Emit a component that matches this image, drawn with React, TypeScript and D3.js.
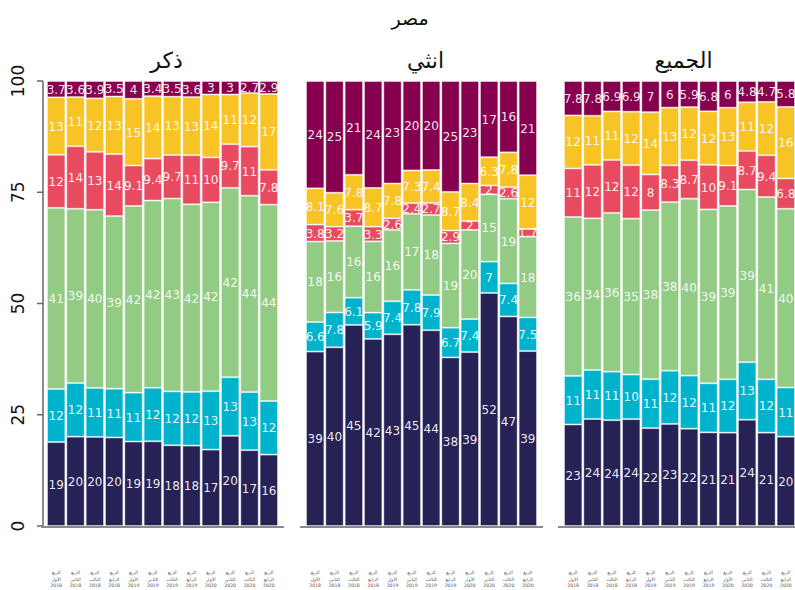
import React from "react";
import * as d3 from "d3";

const quarters = [
  "الربع الأول 2018", "الربع الثاني 2018", "الربع الثالث 2018", "الربع الرابع 2018",
  "الربع الأول 2019", "الربع الثاني 2019", "الربع الثالث 2019", "الربع الرابع 2019",
  "الربع الأول 2020", "الربع الثاني 2020", "الربع الثالث 2020", "الربع الرابع 2020",
];
const categories = ["c1", "c2", "c3", "c4", "c5", "c6"];
const colors = ["#262255", "#00b3cd", "#92cb83", "#e84b60", "#f8c325", "#86004f"];
const panelTitles = ["ذكر", "انثي", "الجميع"];
const yTicks = [0, 25, 50, 75, 100];
const chartTitle = "مصر";

// ذكر
const maleC1 = [19, 20, 20, 20, 19, 19, 18, 18, 17, 20, 17, 16];
const maleC2 = [12, 12, 11, 11, 11, 12, 12, 12, 13, 13, 13, 12];
const maleC3 = [41, 39, 40, 39, 42, 42, 43, 42, 42, 42, 44, 44];
const maleC4 = [12, 14, 13, 14, 9.1, 9.4, 9.7, 11, 10, 9.7, 11, 7.8];
const maleC5 = [13, 11, 12, 13, 15, 14, 13, 13, 14, 11, 12, 17];
const maleC6 = [3.7, 3.6, 3.9, 3.5, 4, 3.4, 3.5, 3.6, 3, 3, 2.7, 2.9];
// انثي
const femC1 = [39, 40, 45, 42, 43, 45, 44, 38, 39, 52, 47, 39];
const femC2 = [6.6, 7.8, 6.1, 5.9, 7.4, 7.8, 7.9, 6.7, 7.4, 7, 7.4, 7.5];
const femC3 = [18, 16, 16, 16, 16, 17, 18, 19, 20, 15, 19, 18];
const femC4 = [3.8, 3.2, 3.7, 3.3, 2.6, 2.4, 2.7, 2.9, 2, 2, 2.6, 1.7];
const femC5 = [8.1, 7.6, 7.8, 8.7, 7.8, 7.3, 7.4, 8.7, 8.4, 6.3, 7.8, 12];
const femC6 = [24, 25, 21, 24, 23, 20, 20, 25, 23, 17, 16, 21];
// الجميع
const allC1 = [23, 24, 24, 24, 22, 23, 22, 21, 21, 24, 21, 20];
const allC2 = [11, 11, 11, 10, 11, 12, 12, 11, 12, 13, 12, 11];
const allC3 = [36, 34, 36, 35, 38, 38, 40, 39, 39, 39, 41, 40];
const allC4 = [11, 12, 12, 12, 8, 8.3, 8.7, 10, 9.1, 8.7, 9.4, 6.8];
const allC5 = [12, 11, 11, 12, 14, 13, 12, 12, 13, 11, 12, 16];
const allC6 = [7.8, 7.8, 6.9, 6.9, 7, 6, 5.9, 6.8, 6, 4.8, 4.7, 5.8];

const panelSeries = [
  [maleC1, maleC2, maleC3, maleC4, maleC5, maleC6],
  [femC1, femC2, femC3, femC4, femC5, femC6],
  [allC1, allC2, allC3, allC4, allC5, allC6],
];

const W = 795, H = 590;
const yTop = 81, yBot = 526;
const panelX = [47, 306, 564];
const panelW = 231;
const FONT = "'DejaVu Sans', Verdana, sans-serif";

function Panel({ idx }: { idx: number }) {
  const series = panelSeries[idx];
  const rows = quarters.map((q, i) => {
    const r: any = { q };
    categories.forEach((c, k) => (r[c] = series[k][i]));
    return r;
  });
  const stacked = d3.stack<any>().keys(categories).offset(d3.stackOffsetExpand)(rows);
  const x0 = panelX[idx];
  const x = d3.scaleBand<string>().domain(quarters).range([x0, x0 + panelW]).paddingInner(0.05);
  const y = d3.scaleLinear().domain([0, 1]).range([yBot, yTop]);
  return (
    <g>
      <text x={x0 + panelW / 2 + 4} y={68} textAnchor="middle" fontFamily={FONT} fontSize={22} fill="#111">
        {panelTitles[idx]}
      </text>
      {stacked.map((layer, k) => (
        <g key={k}>
          {layer.map((d, i) => (
            <rect key={i} x={x(quarters[i])! + 0.5} width={x.bandwidth() - 1}
              y={y(d[1]) + 0.5} height={Math.max(0, y(d[0]) - y(d[1]) - 1)}
              fill={colors[k]} stroke="rgba(255,255,255,0.4)" strokeWidth={1} />
          ))}
        </g>
      ))}
      {stacked.map((layer, k) => (
        <g key={"t" + k}>
          {layer.map((d, i) => (
            <text key={i} x={x(quarters[i])! + x.bandwidth() / 2} y={(y(d[0]) + y(d[1])) / 2 + 4.5}
              textAnchor="middle" fontFamily={FONT} fontSize={12} fill="#fff" fillOpacity={0.92}>
              {series[k][i]}
            </text>
          ))}
        </g>
      ))}
      <line x1={x0 - 6} x2={x0 + panelW + 6} y1={yBot + 1} y2={yBot + 1} stroke="#8a8a8a" strokeWidth={2} />
      {quarters.map((q, i) => {
        const parts = q.split(" ");
        const cx = x(q)! + x.bandwidth() / 2;
        const ys = [574, 580.5, 587];
        return (
          <text key={"xl" + i} textAnchor="middle" fontFamily={FONT} fontSize={4.6} fill="#555">
            {parts.map((p, j) => (
              <tspan key={j} x={cx} y={ys[j]}>{p}</tspan>
            ))}
          </text>
        );
      })}
    </g>
  );
}

export default function App() {
  const y = d3.scaleLinear().domain([0, 100]).range([yBot, yTop]);
  return (
    <div style={{ position: "fixed", left: 0, top: 0 }}>
      <svg width={W} height={H} style={{ display: "block", background: "#fff" }}>
        <text x={410} y={25} textAnchor="middle" fontFamily={FONT} fontSize={19} fill="#111">{chartTitle}</text>
        <line x1={43} x2={43} y1={yTop} y2={yBot + 1} stroke="#666" strokeWidth={1.5} />
        {yTicks.map((t) => (
          <g key={t}>
            <line x1={37} x2={43} y1={y(t)} y2={y(t)} stroke="#666" strokeWidth={1.5} />
            <text transform={`translate(24,${y(t)}) rotate(-90)`} textAnchor="middle" fontFamily={FONT}
              fontSize={17} fill="#111">{t}</text>
          </g>
        ))}
        {[0, 1, 2].map((i) => <Panel key={i} idx={i} />)}
      </svg>
    </div>
  );
}
